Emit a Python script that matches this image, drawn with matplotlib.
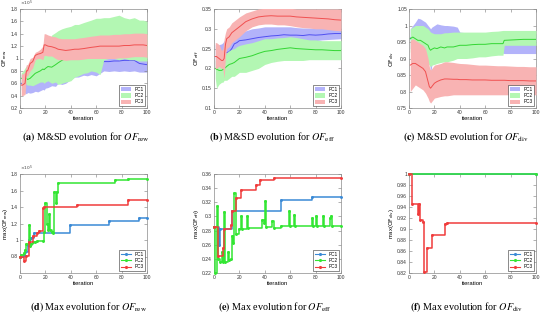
import matplotlib
matplotlib.use("Agg")
import matplotlib.pyplot as plt
from matplotlib.patches import Patch
from matplotlib.lines import Line2D
from matplotlib.ticker import FuncFormatter

plt.rcParams['font.family'] = ['Liberation Sans', 'DejaVu Sans']

# --- Labels and colours ---
LABELS = ["PC1", "PC2", "PC3"]
BAND_FILL = ["#b3b3fa", "#b3f7b3", "#f8b3b3"]
BAND_LINE = ["#4f4ff0", "#33d633", "#f05050"]
MAX_LINE = ["#3a8ad6", "#33e633", "#f03c3c"]

# --- (a) mean and SD of OF_rew (x 1e5) ---
IT_REW = [1, 2, 4, 5, 6, 8, 10, 12, 14, 16, 18, 19, 20, 22, 25, 28, 30, 33, 36, 40,
          43, 46, 50, 53, 56, 60, 63, 66, 70, 74, 78, 82, 86, 90, 94, 97, 100]
REW_PC1_MEAN = [0.6, 0.58, 0.6, 0.62, 0.64, 0.66, 0.68, 0.7, 0.7, 0.72, 0.74, 0.74, 0.75, 0.76, 0.78, 0.78, 0.8, 0.8, 0.82, 0.84,
                0.85, 0.86, 0.88, 0.88, 0.9, 0.9, 0.92, 0.95, 0.95, 0.96, 0.96, 0.97, 0.97, 0.97, 0.92, 0.91, 0.9]
REW_PC1_LOW = [0.5, 0.45, 0.44, 0.43, 0.45, 0.44, 0.45, 0.47, 0.46, 0.48, 0.5, 0.49, 0.52, 0.53, 0.56, 0.55, 0.6, 0.58, 0.6, 0.66,
               0.7, 0.7, 0.73, 0.72, 0.74, 0.72, 0.76, 0.8, 0.79, 0.8, 0.79, 0.8, 0.79, 0.8, 0.78, 0.78, 0.78]
REW_PC1_HIGH = [0.75, 0.72, 0.76, 0.8, 0.82, 0.85, 0.88, 0.9, 0.92, 0.94, 0.96, 0.96, 0.95, 0.96, 0.96, 0.98, 0.98, 1.0, 1.0, 1.0,
                0.98, 1.0, 1.0, 1.0, 1.02, 1.02, 1.02, 1.05, 1.04, 1.04, 1.05, 1.05, 1.04, 1.05, 1.02, 1.0, 1.0]
REW_PC2_MEAN = [0.68, 0.68, 0.7, 0.68, 0.66, 0.68, 0.72, 0.76, 0.78, 0.8, 0.83, 0.82, 0.84, 0.87, 0.86, 0.9, 0.93, 0.97, 1.0, 1.05,
                1.08, 1.1, 1.15, 1.15, 1.18, 1.2, 1.22, 1.3, 1.32, 1.33, 1.33, 1.32, 1.3, 1.31, 1.28, 1.28, 1.28]
REW_PC2_LOW = [0.6, 0.6, 0.62, 0.58, 0.57, 0.57, 0.56, 0.58, 0.6, 0.62, 0.62, 0.6, 0.62, 0.64, 0.6, 0.62, 0.58, 0.6, 0.62, 0.64,
               0.7, 0.72, 0.76, 0.77, 0.8, 0.78, 0.74, 0.98, 1.0, 1.0, 0.98, 1.0, 0.98, 0.98, 0.96, 0.96, 0.96]
REW_PC2_HIGH = [0.78, 0.78, 0.85, 0.88, 0.9, 0.92, 0.95, 0.98, 1.05, 1.1, 1.15, 1.12, 1.18, 1.25, 1.38, 1.42, 1.45, 1.48, 1.5, 1.52,
                1.55, 1.55, 1.58, 1.6, 1.62, 1.65, 1.65, 1.66, 1.66, 1.68, 1.7, 1.66, 1.64, 1.66, 1.62, 1.62, 1.6]
REW_PC3_MEAN = [0.57, 0.57, 0.6, 0.8, 0.8, 0.92, 0.95, 1.05, 1.07, 1.08, 1.1, 1.22, 1.22, 1.2, 1.19, 1.17, 1.15, 1.14, 1.13, 1.14,
                1.15, 1.15, 1.16, 1.17, 1.18, 1.19, 1.2, 1.2, 1.2, 1.2, 1.2, 1.21, 1.21, 1.22, 1.22, 1.22, 1.21]
REW_PC3_LOW = [0.4, 0.4, 0.42, 0.72, 0.72, 0.8, 0.85, 0.98, 1.0, 1.0, 0.98, 1.05, 1.05, 1.04, 1.04, 1.0, 0.98, 0.98, 0.97, 0.98,
               0.98, 0.98, 0.99, 1.0, 1.0, 1.0, 1.0, 1.0, 1.0, 1.0, 1.01, 1.01, 1.02, 1.03, 1.03, 1.03, 1.02]
REW_PC3_HIGH = [0.75, 0.75, 0.78, 0.9, 0.9, 1.0, 1.02, 1.1, 1.12, 1.15, 1.2, 1.4, 1.4, 1.38, 1.36, 1.35, 1.33, 1.32, 1.32, 1.32,
                1.32, 1.33, 1.34, 1.35, 1.36, 1.37, 1.38, 1.38, 1.38, 1.39, 1.39, 1.4, 1.4, 1.41, 1.41, 1.41, 1.4]

# --- (b) mean and SD of OF_eff ---
IT_EFF = [1, 2, 4, 6, 7, 8, 9, 10, 12, 14, 16, 18, 20, 25, 30, 35, 40, 45, 50, 55, 60, 65, 70, 75, 80, 85, 90, 95, 100]
EFF_PC1_MEAN = [0.23, 0.23, 0.235, 0.24, 0.24, 0.24, 0.24, 0.24, 0.242, 0.25, 0.262, 0.265, 0.27, 0.272, 0.275,
                0.278, 0.28, 0.282, 0.283, 0.285, 0.284, 0.284, 0.283, 0.285, 0.284, 0.285, 0.287, 0.288, 0.288]
EFF_PC1_LOW = [0.2, 0.2, 0.21, 0.22, 0.215, 0.21, 0.215, 0.215, 0.22, 0.225, 0.24, 0.24, 0.245, 0.25, 0.255,
               0.26, 0.262, 0.265, 0.267, 0.27, 0.27, 0.27, 0.27, 0.27, 0.27, 0.272, 0.273, 0.274, 0.275]
EFF_PC1_HIGH = [0.26, 0.26, 0.26, 0.262, 0.265, 0.27, 0.27, 0.27, 0.275, 0.28, 0.285, 0.285, 0.29, 0.295, 0.3,
                0.302, 0.305, 0.305, 0.305, 0.305, 0.305, 0.303, 0.302, 0.302, 0.302, 0.302, 0.302, 0.302, 0.302]
EFF_PC2_MEAN = [0.2, 0.198, 0.195, 0.195, 0.197, 0.2, 0.202, 0.205, 0.21, 0.212, 0.215, 0.22, 0.225, 0.228, 0.232,
                0.238, 0.243, 0.245, 0.248, 0.25, 0.252, 0.25, 0.249, 0.248, 0.247, 0.247, 0.246, 0.245, 0.245]
EFF_PC2_LOW = [0.175, 0.15, 0.16, 0.165, 0.165, 0.17, 0.17, 0.17, 0.175, 0.18, 0.18, 0.185, 0.19, 0.19, 0.195,
               0.2, 0.21, 0.215, 0.218, 0.22, 0.22, 0.22, 0.22, 0.222, 0.222, 0.222, 0.222, 0.222, 0.222]
EFF_PC2_HIGH = [0.22, 0.225, 0.22, 0.225, 0.228, 0.23, 0.235, 0.24, 0.245, 0.248, 0.25, 0.255, 0.258, 0.262, 0.265,
                0.27, 0.275, 0.275, 0.277, 0.278, 0.28, 0.278, 0.275, 0.272, 0.272, 0.27, 0.27, 0.27, 0.27]
EFF_PC3_MEAN = [0.23, 0.23, 0.225, 0.22, 0.22, 0.225, 0.26, 0.275, 0.28, 0.29, 0.295, 0.3, 0.305, 0.318, 0.325,
                0.33, 0.332, 0.333, 0.332, 0.332, 0.332, 0.33, 0.329, 0.328, 0.327, 0.326, 0.325, 0.323, 0.322]
EFF_PC3_LOW = [0.2, 0.2, 0.205, 0.2, 0.2, 0.175, 0.23, 0.25, 0.255, 0.265, 0.27, 0.275, 0.28, 0.295, 0.305,
               0.31, 0.312, 0.312, 0.31, 0.31, 0.308, 0.305, 0.303, 0.302, 0.3, 0.3, 0.298, 0.296, 0.295]
EFF_PC3_HIGH = [0.265, 0.265, 0.26, 0.245, 0.25, 0.275, 0.29, 0.3, 0.305, 0.315, 0.32, 0.325, 0.33, 0.34, 0.345,
                0.35, 0.352, 0.352, 0.352, 0.352, 0.352, 0.35, 0.35, 0.35, 0.35, 0.35, 0.35, 0.35, 0.35]

# --- (c) mean and SD of OF_div ---
IT_DIV = [1, 3, 5, 7, 9, 11, 13, 15, 16, 17, 18, 20, 22, 25, 28, 30, 35, 38, 40, 45, 50, 55, 60, 65, 70, 74,
          75, 80, 85, 90, 95, 100]
DIV_PC1_MEAN = [0.96, 0.97, 0.98, 0.985, 0.985, 0.98, 0.975, 0.965, 0.95, 0.93, 0.94, 0.95, 0.955, 0.955, 0.955, 0.955,
                0.955, 0.953, 0.95, 0.95, 0.95, 0.95, 0.948, 0.948, 0.947, 0.946, 0.945, 0.945, 0.945, 0.945, 0.945, 0.945]
DIV_PC1_LOW = [0.93, 0.93, 0.94, 0.945, 0.95, 0.95, 0.945, 0.93, 0.9, 0.855, 0.88, 0.9, 0.905, 0.91, 0.91, 0.912,
               0.915, 0.918, 0.92, 0.92, 0.92, 0.92, 0.918, 0.918, 0.917, 0.916, 0.915, 0.915, 0.915, 0.915, 0.915, 0.915]
DIV_PC1_HIGH = [0.99, 1.0, 1.01, 1.022, 1.02, 1.015, 1.01, 1.0, 0.995, 0.99, 0.995, 1.0, 1.005, 1.002, 1.0, 1.0,
                0.998, 0.995, 0.98, 0.978, 0.978, 0.976, 0.975, 0.975, 0.975, 0.975, 0.975, 0.975, 0.975, 0.975, 0.975, 0.975]
DIV_PC2_MEAN = [0.96, 0.965, 0.96, 0.955, 0.955, 0.95, 0.945, 0.94, 0.93, 0.925, 0.928, 0.932, 0.93, 0.935, 0.932, 0.935,
                0.935, 0.938, 0.94, 0.94, 0.942, 0.943, 0.943, 0.945, 0.945, 0.945, 0.955, 0.956, 0.957, 0.958, 0.958, 0.958]
DIV_PC2_LOW = [0.92, 0.915, 0.91, 0.905, 0.9, 0.9, 0.895, 0.885, 0.88, 0.875, 0.88, 0.882, 0.885, 0.888, 0.89, 0.89,
               0.895, 0.9, 0.9, 0.9, 0.902, 0.905, 0.905, 0.908, 0.91, 0.91, 0.94, 0.94, 0.94, 0.94, 0.94, 0.94]
DIV_PC2_HIGH = [0.99, 0.995, 1.0, 1.0, 1.0, 1.0, 0.995, 0.99, 0.985, 0.98, 0.978, 0.975, 0.975, 0.975, 0.978, 0.978,
                0.98, 0.98, 0.98, 0.98, 0.98, 0.98, 0.98, 0.982, 0.983, 0.985, 0.985, 0.985, 0.985, 0.985, 0.985, 0.985]
DIV_PC3_MEAN = [0.88, 0.885, 0.885, 0.88, 0.875, 0.87, 0.86, 0.83, 0.815, 0.81, 0.815, 0.825, 0.83, 0.835, 0.838, 0.838,
                0.837, 0.837, 0.836, 0.836, 0.835, 0.835, 0.835, 0.834, 0.834, 0.834, 0.834, 0.833, 0.833, 0.833, 0.832, 0.832]
DIV_PC3_LOW = [0.8, 0.81, 0.82, 0.815, 0.81, 0.805, 0.795, 0.78, 0.77, 0.765, 0.77, 0.78, 0.782, 0.785, 0.787, 0.787,
               0.79, 0.79, 0.79, 0.79, 0.79, 0.79, 0.79, 0.79, 0.79, 0.79, 0.79, 0.79, 0.79, 0.79, 0.79, 0.79]
DIV_PC3_HIGH = [0.955, 0.96, 0.955, 0.95, 0.945, 0.94, 0.93, 0.9, 0.875, 0.865, 0.87, 0.88, 0.882, 0.885, 0.89, 0.89,
                0.888, 0.886, 0.885, 0.884, 0.882, 0.88, 0.88, 0.879, 0.878, 0.878, 0.878, 0.877, 0.876, 0.876, 0.875, 0.875]

# --- (d)-(f) max evolution: iteration where value changes, new value ---
MAXREW_PC1_IT = [0, 3, 4, 6, 7, 9, 10, 11, 39, 70, 94, 100]
MAXREW_PC1 = [0.8, 0.82, 0.85, 0.94, 1.0, 1.02, 1.04, 1.085, 1.18, 1.235, 1.27, 1.27]
MAXREW_PC2_IT = [0, 1, 3, 4, 5, 7, 8, 9, 10, 12, 13, 18, 19, 20, 21, 22, 23, 24, 25, 26, 27, 28, 29, 30, 75, 85, 100]
MAXREW_PC2 = [0.8, 0.82, 0.84, 0.88, 0.95, 1.18, 0.93, 0.95, 0.97, 0.98, 0.985, 0.99, 1.1, 1.45, 1.2, 1.12, 1.32,
              1.12, 1.1, 1.08, 1.58, 1.45, 1.58, 1.69, 1.725, 1.74, 1.74]
MAXREW_PC3_IT = [0, 3, 5, 7, 10, 13, 15, 18, 19, 45, 85, 100]
MAXREW_PC3 = [0.8, 0.74, 0.81, 0.98, 1.045, 1.08, 1.115, 1.39, 1.4, 1.42, 1.49, 1.49]

MAXEFF_PC1_IT = [0, 4, 5, 14, 53, 77, 100]
MAXEFF_PC1 = [0.285, 0.26, 0.282, 0.307, 0.3235, 0.328, 0.328]
MAXEFF_PC2_IT = [0, 1, 2, 3, 5, 6, 7, 8, 9, 11, 12, 13, 14, 15, 16, 17, 20, 21, 22, 26, 27, 38, 39, 40, 41, 46, 47,
                 53, 59, 60, 63, 64, 77, 78, 80, 81, 86, 87, 91, 92, 93, 100]
MAXEFF_PC2 = [0.285, 0.22, 0.315, 0.24, 0.235, 0.25, 0.235, 0.306, 0.236, 0.25, 0.238, 0.24, 0.273, 0.262, 0.333,
              0.275, 0.282, 0.3, 0.282, 0.3, 0.283, 0.295, 0.29, 0.322, 0.285, 0.293, 0.283, 0.287, 0.308, 0.287,
              0.302, 0.287, 0.298, 0.287, 0.3, 0.287, 0.3, 0.287, 0.298, 0.3, 0.287, 0.287]
MAXEFF_PC3_IT = [0, 3, 7, 8, 13, 14, 17, 21, 33, 36, 47, 100]
MAXEFF_PC3 = [0.285, 0.244, 0.256, 0.282, 0.288, 0.308, 0.326, 0.337, 0.344, 0.352, 0.354, 0.354]

MAXDIV_PC1_IT = [0, 100]
MAXDIV_PC1 = [1.0, 1.0]
MAXDIV_PC2_IT = [0, 100]
MAXDIV_PC2 = [1.0, 1.0]
MAXDIV_PC3_IT = [0, 2, 7, 8, 9, 11, 12, 14, 18, 28, 30, 100]
MAXDIV_PC3 = [1.0, 0.945, 0.928, 0.945, 0.917, 0.912, 0.822, 0.866, 0.889, 0.909, 0.911, 0.911]


# --- Helpers ---
def style_axes(ax, ylim, yticks, ylabel):
    ax.set_xlim(0, 100)
    ax.set_ylim(*ylim)
    ax.set_xticks(range(0, 101, 20))
    ax.set_yticks(yticks)
    ax.yaxis.set_major_formatter(FuncFormatter(lambda v, p: f"{v:g}"))
    ax.tick_params(direction='in', length=2, width=0.4, labelsize=3.6, top=True, right=True,
                   pad=1.5, color='#777777', labelcolor='#333333')
    for s in ax.spines.values():
        s.set_linewidth(0.5)
        s.set_color('#8a8a8a')
    ax.set_xlabel('iteration', fontsize=4.2, labelpad=1)
    ax.set_ylabel(ylabel, fontsize=4.2, labelpad=1, math_fontfamily='dejavusans')


def small_legend(ax, handles):
    leg = ax.legend(handles, LABELS, loc='lower right', fontsize=3.4, fancybox=False, framealpha=1,
                    edgecolor='#333333', borderpad=0.4, labelspacing=0.3, handlelength=2.2,
                    handleheight=1.0, handletextpad=0.6, borderaxespad=0.35)
    leg.get_frame().set_linewidth(0.4)
    leg.set_zorder(10)


def band_panel(ax, it, series, ylim, yticks, ylabel):
    for i, (mean, lo, hi) in enumerate(series):
        ax.fill_between(it, lo, hi, color=BAND_FILL[i], lw=0, zorder=2 * i + 1)
        ax.plot(it, mean, color=BAND_LINE[i], lw=0.7, zorder=2 * i + 2)
    style_axes(ax, ylim, yticks, ylabel)
    small_legend(ax, [Patch(facecolor=c, edgecolor='none') for c in BAND_FILL])


def max_panel(ax, series, ylim, yticks, ylabel):
    for i, (it, vals) in enumerate(series):
        ax.plot(it, vals, drawstyle='steps-post', color=MAX_LINE[i], lw=1.1, marker='.', ms=2.2,
                clip_on=False, zorder=3 + i)
    style_axes(ax, ylim, yticks, ylabel)
    small_legend(ax, [Line2D([], [], color=c, lw=0.8, marker='.', ms=2.5) for c in MAX_LINE])


def caption(fig, x, y, letter, text, sub):
    fig.text(x / 550, 1 - y / 323,
             r"$\mathbf{(" + letter + r")}$ " + text + r" $\mathit{OF}_{\mathrm{" + sub + r"}}$",
             ha='center', va='center', fontsize=7.3, family='Liberation Serif', math_fontfamily='stix')


# --- Figure ---
fig = plt.figure(figsize=(5.5, 3.23), dpi=100)
lefts = [20 / 550, 214 / 550, 409 / 550]
w, h = 127 / 550, 99 / 323
top_b, bot_b = 1 - 108 / 323, 1 - 273 / 323
axs = [fig.add_axes([l, top_b, w, h]) for l in lefts] + [fig.add_axes([l, bot_b, w, h]) for l in lefts]

band_panel(axs[0], IT_REW,
           [(REW_PC1_MEAN, REW_PC1_LOW, REW_PC1_HIGH), (REW_PC2_MEAN, REW_PC2_LOW, REW_PC2_HIGH),
            (REW_PC3_MEAN, REW_PC3_LOW, REW_PC3_HIGH)],
           (0.2, 1.8), [0.2, 0.4, 0.6, 0.8, 1.0, 1.2, 1.4, 1.6, 1.8], r"$\mathrm{OF}_{\mathrm{rew}}$")
band_panel(axs[1], IT_EFF,
           [(EFF_PC1_MEAN, EFF_PC1_LOW, EFF_PC1_HIGH), (EFF_PC2_MEAN, EFF_PC2_LOW, EFF_PC2_HIGH),
            (EFF_PC3_MEAN, EFF_PC3_LOW, EFF_PC3_HIGH)],
           (0.1, 0.35), [0.1, 0.15, 0.2, 0.25, 0.3, 0.35], r"$\mathrm{OF}_{\mathrm{eff}}$")
band_panel(axs[2], IT_DIV,
           [(DIV_PC1_MEAN, DIV_PC1_LOW, DIV_PC1_HIGH), (DIV_PC2_MEAN, DIV_PC2_LOW, DIV_PC2_HIGH),
            (DIV_PC3_MEAN, DIV_PC3_LOW, DIV_PC3_HIGH)],
           (0.75, 1.05), [0.75, 0.8, 0.85, 0.9, 0.95, 1.0, 1.05], r"$\mathrm{OF}_{\mathrm{div}}$")

max_panel(axs[3], [(MAXREW_PC1_IT, MAXREW_PC1), (MAXREW_PC2_IT, MAXREW_PC2), (MAXREW_PC3_IT, MAXREW_PC3)],
          (0.6, 1.8), [0.8, 1.0, 1.2, 1.4, 1.6, 1.8], r"max($\mathrm{OF}_{\mathrm{rew}}$)")
max_panel(axs[4], [(MAXEFF_PC1_IT, MAXEFF_PC1), (MAXEFF_PC2_IT, MAXEFF_PC2), (MAXEFF_PC3_IT, MAXEFF_PC3)],
          (0.22, 0.36), [0.22, 0.24, 0.26, 0.28, 0.3, 0.32, 0.34, 0.36], r"max($\mathrm{OF}_{\mathrm{eff}}$)")
max_panel(axs[5], [(MAXDIV_PC1_IT, MAXDIV_PC1), (MAXDIV_PC2_IT, MAXDIV_PC2), (MAXDIV_PC3_IT, MAXDIV_PC3)],
          (0.82, 1.0), [0.82, 0.84, 0.86, 0.88, 0.9, 0.92, 0.94, 0.96, 0.98, 1.0], r"max($\mathrm{OF}_{\mathrm{div}}$)")

# x 1e5 multiplier on the rew panels
for ax in (axs[0], axs[3]):
    ax.text(0.0, 1.008, r"$\times10^{5}$", transform=ax.transAxes, fontsize=3.2, color='#444444',
            ha='left', va='bottom', math_fontfamily='dejavusans')

# --- Captions ---
caption(fig, 86, 137, "a", "M&SD evolution for", "rew")
caption(fig, 272, 137, "b", "M&SD evolution for", "eff")
caption(fig, 466, 137, "c", "M&SD evolution for", "div")
caption(fig, 89, 307, "d", "Max evolution for", "rew")
caption(fig, 275, 307, "e", "Max evolution for", "eff")
caption(fig, 467, 307, "f", "Max evolution for", "div")

fig.savefig("out.png", dpi=100)
